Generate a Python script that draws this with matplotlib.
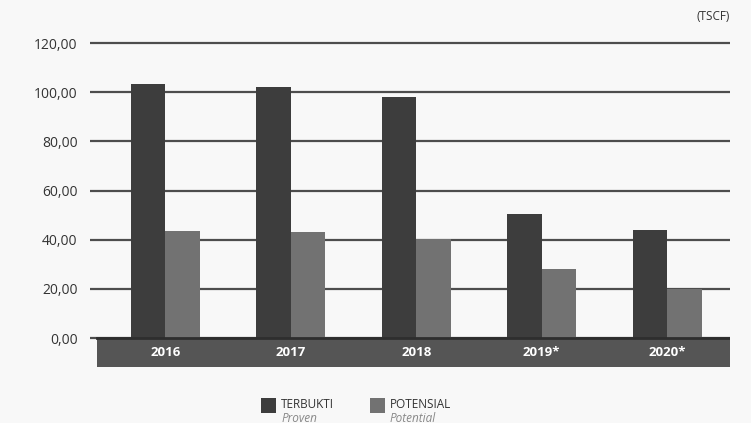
import matplotlib
matplotlib.use("Agg")
import matplotlib.pyplot as plt
from matplotlib.patches import Rectangle

years = ["2016", "2017", "2018", "2019*", "2020*"]
proven = [103.4, 102.2, 98.0, 50.5, 44.0]
potential = [43.6, 43.2, 40.1, 28.0, 19.9]
yticks = [0, 20, 40, 60, 80, 100, 120]
ytick_labels = ["0,00", "20,00", "40,00", "60,00", "80,00", "100,00", "120,00"]

plt.rcParams['font.family'] = ['Open Sans', 'DejaVu Sans']
bg = "#f8f8f8"
fig = plt.figure(figsize=(7.51, 4.23), dpi=100, facecolor=bg)
ax = fig.add_axes([90/751, (423-367)/423, 640/751, 327/423], facecolor=bg)

x = list(range(len(years)))
w = 0.275
ax.set_xlim(-0.6, 4.5)
ax.set_ylim(-11.8, 121.3)

for yv in yticks:
    ax.axhline(yv, color="#4d4d4d", lw=1.6, zorder=1)

ax.bar([i - w/2 for i in x], proven, width=w, color="#3d3d3d", zorder=3, label="TERBUKTI")
ax.bar([i + w/2 for i in x], potential, width=w, color="#727272", zorder=3, label="POTENSIAL")

# year band
ax.add_patch(Rectangle((-0.545, -11.8), 5.045, 11.8, facecolor="#555555", edgecolor="none", zorder=4))
ax.plot([-0.545, 4.5], [0, 0], color="#2e2e2e", lw=2, zorder=5)
for i, yr in enumerate(years):
    ax.text(i, -6.0, yr, color="white", fontsize=9.5, fontweight="bold", ha="center", va="center", zorder=6)

ax.set_yticks(yticks)
ax.set_yticklabels(ytick_labels, fontsize=10, color="#333333")
ax.tick_params(axis="y", length=0, pad=9)
ax.set_xticks([])
for s in ax.spines.values():
    s.set_visible(False)

fig.text(730/751, 1 - 17/423, "(TSCF)", ha="right", va="center", fontsize=8.5, color="#333333")

# legend
fig.patches.append(Rectangle((261/751, 1 - 413/423), 15/751, 15/423, transform=fig.transFigure, facecolor="#3d3d3d", edgecolor="none"))
fig.patches.append(Rectangle((370/751, 1 - 413/423), 15/751, 15/423, transform=fig.transFigure, facecolor="#727272", edgecolor="none"))
fig.text(281/751, 1 - 404/423, "TERBUKTI", fontsize=8.5, color="#333333", va="center")
fig.text(281/751, 1 - 418/423, "Proven", fontsize=8.5, color="#888888", style="italic", va="center")
fig.text(390/751, 1 - 404/423, "POTENSIAL", fontsize=8.5, color="#333333", va="center")
fig.text(390/751, 1 - 418/423, "Potential", fontsize=8.5, color="#888888", style="italic", va="center")

fig.savefig("out.png", dpi=100, facecolor=bg)
